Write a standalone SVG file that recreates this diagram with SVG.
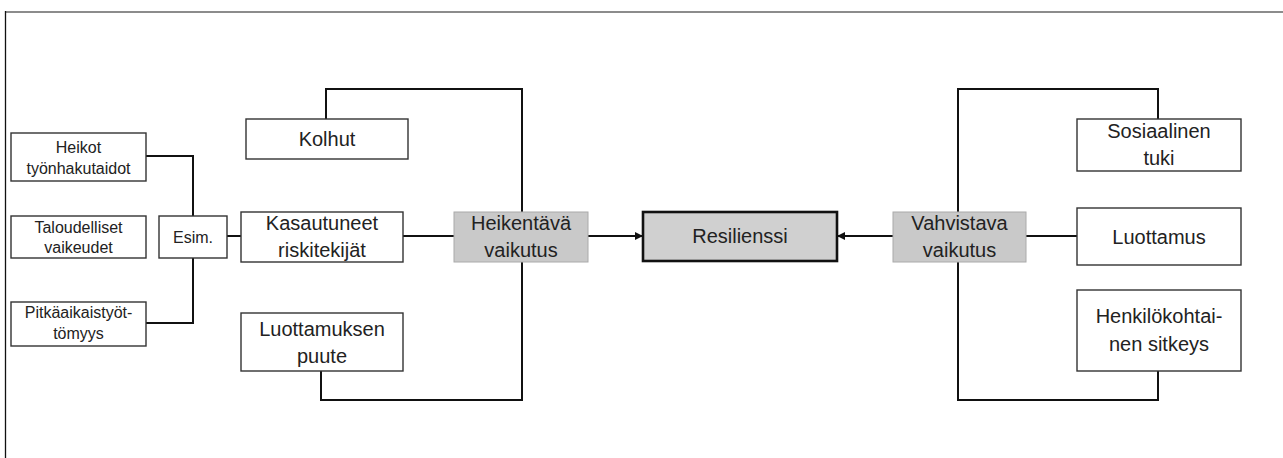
<svg xmlns="http://www.w3.org/2000/svg" width="1283" height="458" viewBox="0 0 1283 458">
<defs>
<style>
.box{fill:#fff;stroke:#333;stroke-width:1.4}
.grey{fill:#c9c9c9;stroke:#aaa;stroke-width:1}
.main{fill:#d0d0d0;stroke:#111;stroke-width:2.6}
.t{font-family:"Liberation Sans",Arial,sans-serif;font-size:20px;fill:#222;text-anchor:middle}
.s{font-family:"Liberation Sans",Arial,sans-serif;font-size:16px;fill:#222;text-anchor:middle}
.c{fill:none;stroke:#111;stroke-width:2}
</style>
<marker id="arr" viewBox="0 0 10 10" refX="10" refY="5" markerWidth="9" markerHeight="8" markerUnits="userSpaceOnUse" orient="auto">
<path d="M0,0 L10,5 L0,10 z" fill="#111"/>
</marker>
</defs>
<rect width="1283" height="458" fill="#fff"/>
<g id="frame">
<line x1="5" y1="12" x2="1283" y2="12" stroke="#666" stroke-width="1.6"/>
<line x1="5.5" y1="11" x2="5.5" y2="458" stroke="#111" stroke-width="1.3"/>
</g>
<g id="connectors">
<polyline class="c" points="146,156 193,156 193,216"/>
<polyline class="c" points="146,323 193,323 193,258"/>
<line class="c" x1="227" y1="236" x2="241" y2="236"/>
<line class="c" x1="403" y1="236" x2="454" y2="236"/>
<polyline class="c" points="326,119 326,89 522,89 522,212"/>
<polyline class="c" points="321,371 321,400 522,400 522,262"/>
<line class="c" x1="588" y1="236" x2="643" y2="236" marker-end="url(#arr)"/>
<line class="c" x1="893" y1="236" x2="837" y2="236" marker-end="url(#arr)"/>
<line class="c" x1="1026" y1="236" x2="1077" y2="236"/>
<polyline class="c" points="958,212 958,89 1158,89 1158,119"/>
<polyline class="c" points="1158,371 1158,400 958,400 958,262"/>
</g>
<g id="heikot"><rect class="box" x="11" y="133" width="135" height="48"/><text class="s" x="78.5" y="153">Heikot</text><text class="s" x="78.5" y="174">työnhakutaidot</text></g>
<g id="taloudelliset"><rect class="box" x="11" y="216" width="135" height="42"/><text class="s" x="78.5" y="233">Taloudelliset</text><text class="s" x="78.5" y="253">vaikeudet</text></g>
<g id="pitkaaikais"><rect class="box" x="11" y="302" width="135" height="44"/><text class="s" x="78.5" y="318">Pitkäaikaistyöt-</text><text class="s" x="78.5" y="339">tömyys</text></g>
<g id="esim"><rect class="box" x="159" y="216" width="68" height="42"/><text class="s" x="193" y="243">Esim.</text></g>
<g id="kolhut"><rect class="box" x="246" y="119" width="162" height="40"/><text class="t" x="327" y="146">Kolhut</text></g>
<g id="kasautuneet"><rect class="box" x="241" y="212" width="162" height="50"/><text class="t" x="322" y="230">Kasautuneet</text><text class="t" x="322" y="257">riskitekijät</text></g>
<g id="luottamuksen-puute"><rect class="box" x="241" y="313" width="162" height="58"/><text class="t" x="322" y="336">Luottamuksen</text><text class="t" x="322" y="363">puute</text></g>
<g id="heikentava"><rect class="grey" x="454" y="212" width="134" height="50"/><text class="t" x="521" y="230">Heikentävä</text><text class="t" x="521" y="257">vaikutus</text></g>
<g id="resilienssi"><rect class="main" x="643" y="212" width="194" height="49"/><text class="t" x="740" y="243">Resilienssi</text></g>
<g id="vahvistava"><rect class="grey" x="893" y="212" width="133" height="50"/><text class="t" x="959.5" y="230">Vahvistava</text><text class="t" x="959.5" y="257">vaikutus</text></g>
<g id="sosiaalinen"><rect class="box" x="1077" y="119" width="164" height="52"/><text class="t" x="1159" y="138">Sosiaalinen</text><text class="t" x="1159" y="165">tuki</text></g>
<g id="luottamus"><rect class="box" x="1077" y="208" width="164" height="57"/><text class="t" x="1159" y="244">Luottamus</text></g>
<g id="henkilokohtainen"><rect class="box" x="1077" y="290" width="164" height="81"/><text class="t" x="1159" y="323">Henkilökohtai-</text><text class="t" x="1159" y="351">nen sitkeys</text></g>
</svg>
